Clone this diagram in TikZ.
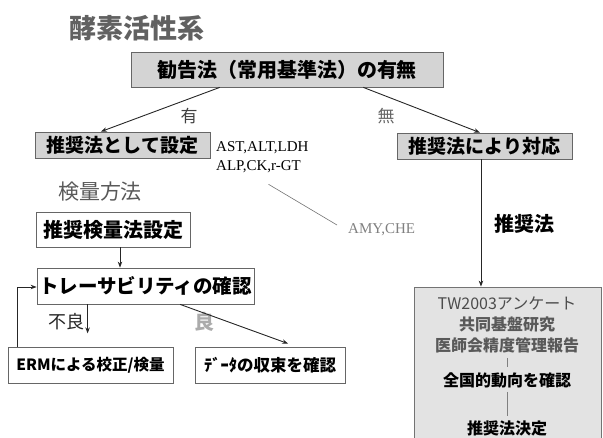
\documentclass[tikz,border=0pt]{standalone}
\usepackage{fontspec}
\setmainfont{Liberation Serif}
\newfontfamily\jp{Noto Sans CJK JP}
\usetikzlibrary{arrows.meta,calc}
\begin{document}
\begin{tikzpicture}[x=1pt,y=-1pt,
  box/.style={draw=black!60, line width=0.8pt, inner sep=0pt, anchor=center, fill=white,
    font=\jp\bfseries\fontsize{19}{22}\selectfont},
  graybox/.style={box, fill=black!17},
  arr/.style={draw=black!85, line width=0.9pt, -{Stealth[length=6pt,width=4.5pt]}},
  lbl/.style={inner sep=0pt, font=\jp\fontsize{17}{20}\selectfont},
  eng/.style={inner sep=0pt, anchor=west, font=\fontsize{15}{18}\selectfont},
  rtxt/.style={inner sep=1pt, font=\jp\bfseries\fontsize{16}{19}\selectfont}]
\useasboundingbox (0,0) rectangle (603,437);

\node[inner sep=0pt, text=black!62, font=\jp\bfseries\fontsize{27}{30}\selectfont] (title) at (137,28) {酵素活性系};

\node[graybox, minimum width=312, minimum height=35, font=\jp\bfseries\fontsize{20}{23}\selectfont] (top) at (287,69.5) {勧告法（常用基準法）の有無};

\node[graybox, minimum width=175, minimum height=26] (lg) at (122.5,145) {推奨法として設定};
\node[graybox, minimum width=175, minimum height=26] (rg) at (484.5,146) {推奨法により対応};

\draw[arr] ($(top.south west)!0.285!(top.south east)$) -- ($(lg.north west)!0.377!(lg.north east)$);
\draw[arr] ($(top.south west)!0.744!(top.south east)$) -- ($(rg.north west)!0.474!(rg.north east)$);
\node[lbl, text=black!75] (ari) at (189,116) {有};
\node[lbl, text=black!60] (nashi) at (386,116) {無};

\node[eng] (ast) at (216,148) {AST,ALT,LDH};
\node[eng] (alp) at (216,167) {ALP,CK,r-GT};
\node[eng, text=black!50] (amy) at (348,230) {AMY,CHE};
\draw[black!55, line width=0.6pt] ($(alp.south)+(10,11)$) -- ($(amy.west)+(-11,-5)$);

\node[inner sep=0pt, text=black!65, font=\jp\fontsize{21}{24}\selectfont] (kenryo) at (100,192) {検量方法};
\node[box, minimum width=154, minimum height=35, font=\jp\bfseries\fontsize{20}{23}\selectfont] (sk) at (113,229.5) {推奨検量法設定};
\node[box, minimum width=217, minimum height=36, font=\jp\bfseries\fontsize{19.5}{23}\selectfont] (tr) at (145.5,286) {トレーサビリティの確認};
\coordinate (p1) at ($(sk.south)+(7,0)$);
\draw[arr] (p1) -- (p1 |- tr.north);

\node[box, minimum width=165, minimum height=36, font=\jp\bfseries\fontsize{15.5}{18}\selectfont] (erm) at (90.5,365) {ERMによる校正/検量};
\node[box, minimum width=150, minimum height=36, font=\jp\bfseries\fontsize{16.5}{19}\selectfont] (data) at (270,365) {ﾃﾞｰﾀの収束を確認};

\draw[arr] ($(erm.north west)+(10,0)$) |- ($(tr.west)+(0,1)$);
\coordinate (p2) at ($(tr.south west)+(51,0)$);
\coordinate (p2e) at ($(p2)+(0,29)$);
\draw[arr] (p2) -- (p2e);
\node[lbl, text=black!85, font=\jp\fontsize{18}{21}\selectfont] (furyo) at (66,322) {不良};
\node[lbl, text=black!33, font=\jp\bfseries\fontsize{20}{23}\selectfont] (ryo) at (204,322) {良};
\draw[arr] ($(tr.south west)!0.659!(tr.south east)$) -- ($(data.north west)!0.62!(data.north east)+(0,-3)$);

\node[inner sep=0pt, font=\jp\bfseries\fontsize{20}{23}\selectfont] (suisho) at (524,224) {推奨法};
\node[draw=black!55, line width=0.8pt, fill=black!11, inner sep=0pt, minimum width=187, minimum height=160] (rbox) at (507.5,367) {};
\coordinate (p3) at ($(rg.south west)!0.48!(rg.south east)$);
\draw[arr] (p3) -- (p3 |- rbox.north);

\node[rtxt, text=black!70, font=\jp\fontsize{16}{19}\selectfont] (tw) at (507,303) {TW2003アンケート};
\node[rtxt, text=black!65] (kyodo) at (507,324) {共同基盤研究};
\node[rtxt, text=black!65] (ishi) at (507,345) {医師会精度管理報告};
\node[rtxt] (zen) at (507,380) {全国的動向を確認};
\node[rtxt] (kettei) at (507,428) {推奨法決定};
\draw[black!50, line width=0.5pt, shorten <=4pt, shorten >=4pt] (ishi.south) -- (zen.north);
\draw[black!50, line width=0.5pt, shorten <=3pt, shorten >=3pt] (zen.south) -- (kettei.north);
\end{tikzpicture}
\end{document}
